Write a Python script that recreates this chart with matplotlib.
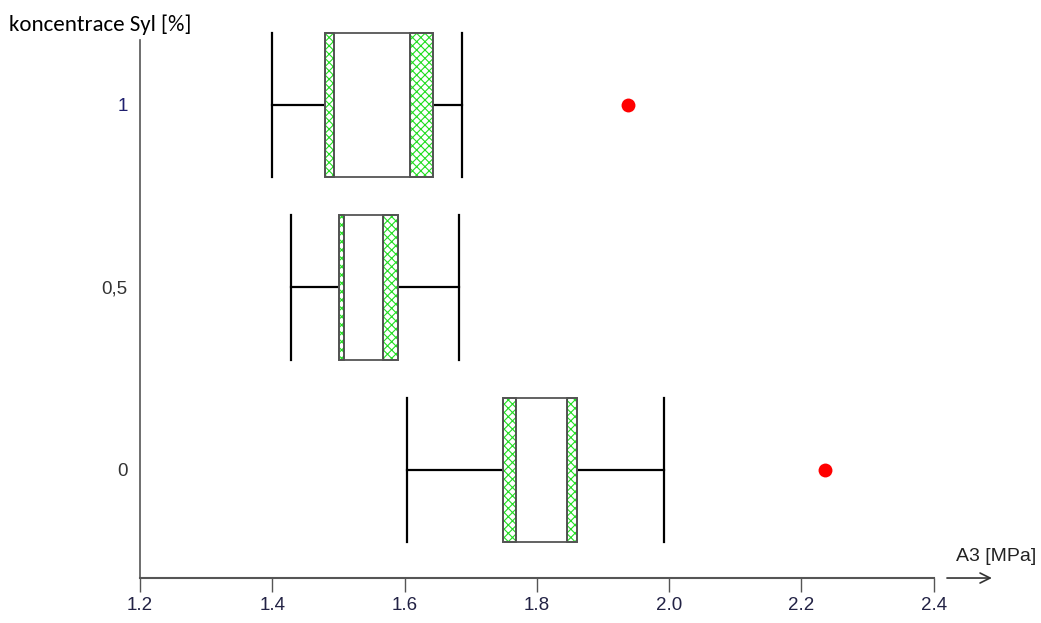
import matplotlib
matplotlib.use("Agg")
import matplotlib.pyplot as plt
from matplotlib.patches import Rectangle
from matplotlib import font_manager

# Sylvan concentration groups (bottom to top)
groups = ["0", "0,5", "1"]
whisker_lo = [1.604, 1.428, 1.400]
box_lo = [1.749, 1.501, 1.479]
median_ci_lo = [1.768, 1.509, 1.494]
median_ci_hi = [1.845, 1.567, 1.608]
box_hi = [1.860, 1.590, 1.643]
whisker_hi = [1.992, 1.682, 1.687]
outliers = [[2.236], [], [1.937]]

x_ticks = [1.2, 1.4, 1.6, 1.8, 2.0, 2.2, 2.4]
x_tick_labels = ["1.2", "1.4", "1.6", "1.8", "2.0", "2.2", "2.4"]
label_colors = ["#333333", "#333333", "#1f1f6e"]

available = {f.name for f in font_manager.fontManager.ttflist}


def pick(candidates):
    for c in candidates:
        if c in available:
            return c
    return "DejaVu Sans"


sans = pick(["Liberation Sans", "Arimo", "Arial"])
calibri = pick(["Carlito", "Calibri", "Lato"])

plt.rcParams["font.family"] = [sans, "DejaVu Sans"]
plt.rcParams["hatch.linewidth"] = 0.8

fig = plt.figure(figsize=(10.41, 6.23), dpi=100)
ax = fig.add_axes([0.1345, 0.0722, 0.7625, 0.8636])

half = 0.397
for i, g in enumerate(groups):
    y = i
    # whiskers
    ax.plot([whisker_lo[i], box_lo[i]], [y, y], color="black", lw=1.6, zorder=2, clip_on=False)
    ax.plot([box_hi[i], whisker_hi[i]], [y, y], color="black", lw=1.6, zorder=2, clip_on=False)
    for w in (whisker_lo[i], whisker_hi[i]):
        ax.plot([w, w], [y - half, y + half], color="black", lw=1.6, zorder=2, clip_on=False)
    # hatched bands on both sides of the median interval
    for a, b in ((box_lo[i], median_ci_lo[i]), (median_ci_hi[i], box_hi[i])):
        ax.add_patch(Rectangle((a, y - half), b - a, 2 * half, facecolor="white",
                               edgecolor="#22dd22", hatch="xxxx", lw=0, zorder=3,
                               clip_on=False))
        ax.add_patch(Rectangle((a, y - half), b - a, 2 * half, facecolor="none",
                               edgecolor="#444444", lw=1.3, zorder=4, clip_on=False))
    ax.add_patch(Rectangle((box_lo[i], y - half), box_hi[i] - box_lo[i], 2 * half,
                           facecolor="none", edgecolor="#555555", lw=1.3, zorder=4,
                           clip_on=False))
    for o in outliers[i]:
        ax.plot(o, y, "o", color="#ff0000", ms=10, mec="none", zorder=5, clip_on=False)

ax.set_xlim(1.2, 2.4)
ax.set_ylim(-0.592, 2.356)
ax.set_xticks(x_ticks)
ax.set_xticklabels(x_tick_labels, fontsize=13.5, color="#222244")
ax.set_yticks(range(len(groups)))
ax.set_yticklabels(groups, fontsize=13.5)
for lbl, c in zip(ax.get_yticklabels(), label_colors):
    lbl.set_color(c)
ax.tick_params(axis="y", length=0, pad=9)
ax.tick_params(axis="x", length=10, width=1.0, color="#555555", pad=4)

for s in ("top", "right"):
    ax.spines[s].set_visible(False)
ax.spines["left"].set_color("#555555")
ax.spines["bottom"].set_color("#555555")
ax.spines["left"].set_linewidth(1.2)
ax.spines["bottom"].set_linewidth(1.5)

# axis arrow and titles
ax.annotate("", xy=(0.9555, 0.0722), xytext=(0.907, 0.0722), xycoords="figure fraction",
            arrowprops=dict(arrowstyle="->", color="#333333", lw=1.2, mutation_scale=18))
fig.text(0.995, 0.093, "A3 [MPa]", ha="right", va="bottom", fontsize=14, color="#222222")
fig.text(0.009, 0.96, "koncentrace Syl [%]", ha="left", va="center", fontsize=16.5,
         color="black", family=[calibri, "DejaVu Sans"])

fig.savefig("out.png", dpi=100)
